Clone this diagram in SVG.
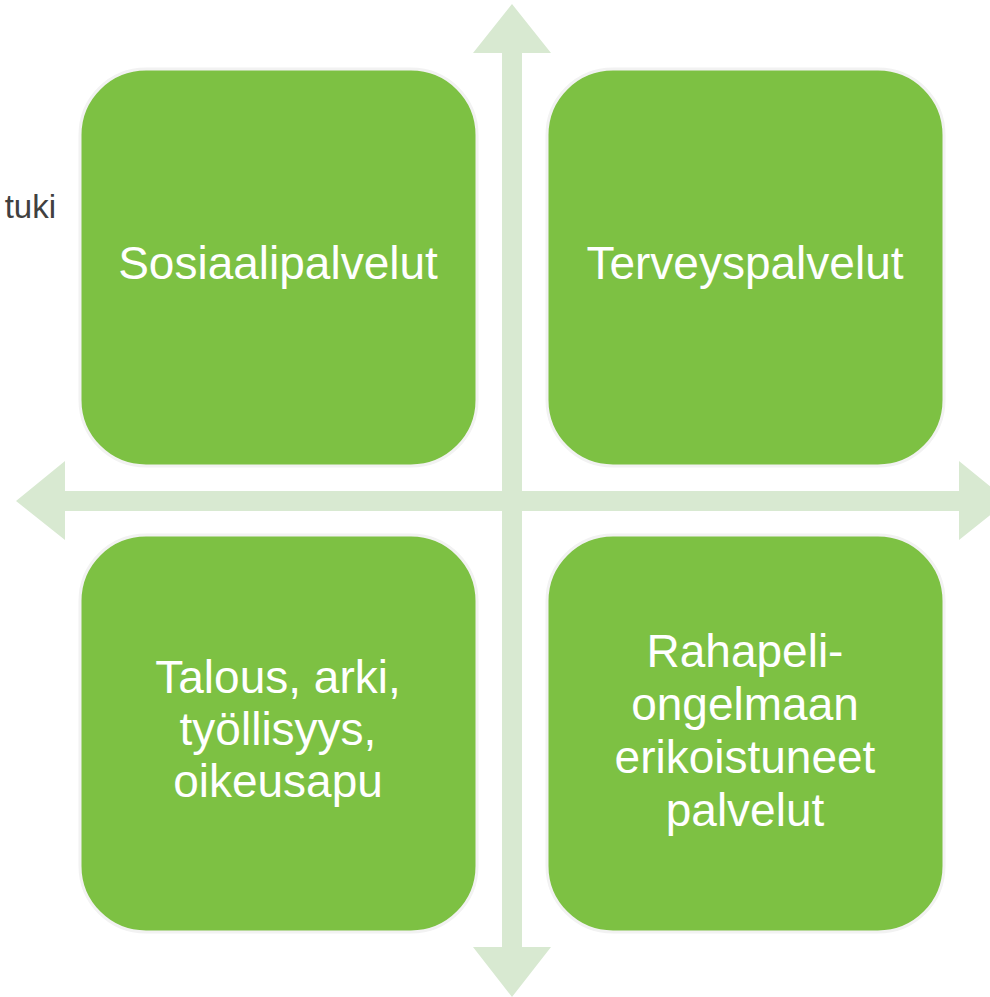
<svg xmlns="http://www.w3.org/2000/svg" width="990" height="997" viewBox="0 0 990 997">
<style>
.box{fill:#7dc143;stroke:#f2f2f2;stroke-width:3}
.lbl{font-family:"Liberation Sans",Arial,sans-serif;font-size:46px;fill:#ffffff;text-anchor:middle}
.arr{fill:#d8e9d1}
.side{font-family:"Liberation Sans",Arial,sans-serif;font-size:33px;fill:#404040;text-anchor:end}
</style>
<rect width="990" height="997" fill="#ffffff"/>
<g id="connectors">
<polygon class="arr" points="512,4 551,53 522,53 522,491 959,491 959,461 1008,501 959,540 959,511 522,511 522,947 551,947 512,997 473,947 502,947 502,511 65,511 65,540 16,501 65,461 65,491 502,491 502,53 473,53"/>
</g>
<text id="side-label" class="side" x="56" y="218">tuki</text>
<g id="node-sosiaali">
<rect class="box" x="80" y="69" width="397" height="397" rx="66" ry="66"/>
<text class="lbl" x="278" y="279">Sosiaalipalvelut</text>
</g>
<g id="node-terveys">
<rect class="box" x="547" y="69" width="397" height="397" rx="66" ry="66"/>
<text class="lbl" x="745" y="279">Terveyspalvelut</text>
</g>
<g id="node-talous">
<rect class="box" x="80" y="535" width="397" height="397" rx="66" ry="66"/>
<text class="lbl" x="278" y="693">Talous, arki,</text>
<text class="lbl" x="278" y="745">työllisyys,</text>
<text class="lbl" x="278" y="797">oikeusapu</text>
</g>
<g id="node-rahapeli">
<rect class="box" x="547" y="535" width="397" height="397" rx="66" ry="66"/>
<text class="lbl" x="745" y="667">Rahapeli-</text>
<text class="lbl" x="745" y="720">ongelmaan</text>
<text class="lbl" x="745" y="773">erikoistuneet</text>
<text class="lbl" x="745" y="826">palvelut</text>
</g>
</svg>
